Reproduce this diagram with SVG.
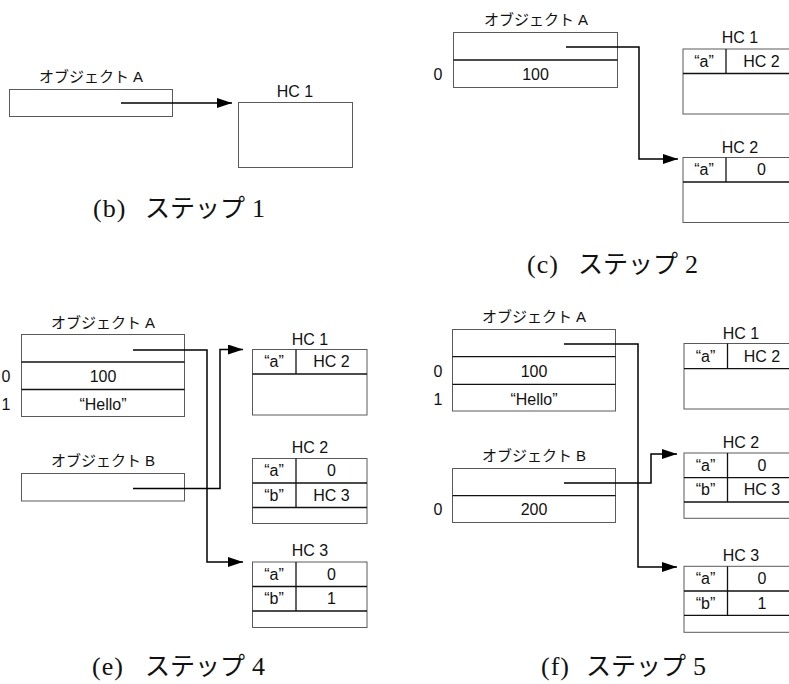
<svg xmlns="http://www.w3.org/2000/svg" width="789" height="684" viewBox="0 0 789 684">
<style>
.bg{fill:#fff}
.box{fill:#fff;stroke:#5a5a5a;stroke-width:1}
.div{stroke:#111;stroke-width:1.3;fill:none}
.lbl{font-family:"Liberation Sans","Noto Sans CJK JP",sans-serif;font-size:16px;fill:#111;text-anchor:middle}
.jl{font-size:15px}
.cap{font-family:"Liberation Serif","Noto Sans CJK JP",serif;font-size:26px;fill:#111}
.kt{font-size:25px}
.con{fill:none;stroke:#000;stroke-width:1.5}
</style>
<defs>
<marker id="ah" markerUnits="userSpaceOnUse" markerWidth="16" markerHeight="11" refX="15" refY="5" orient="auto">
<path d="M0,0 L15,5 L0,10 z" fill="#000"/>
</marker>
</defs>
<rect class="bg" x="0" y="0" width="789" height="684"/>

<!-- Panel b -->
<g id="b-objA">
<text class="lbl jl" x="91" y="82">オブジェクト A</text>
<rect class="box" x="9.5" y="89.5" width="163" height="27"/>
</g>
<g id="b-hc1">
<text class="lbl" x="295" y="97">HC 1</text>
<rect class="box" x="238.5" y="102.5" width="114" height="65"/>
</g>
<text class="cap" y="217"><tspan x="93" letter-spacing="1">(b)</tspan><tspan class="kt" x="145">ステップ</tspan><tspan x="252">1</tspan></text>

<!-- Panel c -->
<g id="c-objA">
<text class="lbl jl" x="536" y="25">オブジェクト A</text>
<rect class="box" x="453.5" y="32.5" width="164" height="55"/>
<line class="div" x1="453.5" y1="60" x2="617.5" y2="60"/>
<text class="lbl" x="438" y="79.5">0</text>
<text class="lbl" x="535.5" y="79.5">100</text>
</g>
<g id="c-hc1">
<text class="lbl" x="740" y="43">HC 1</text>
<rect class="box" x="683" y="49" width="114" height="65"/>
<line class="div" x1="683" y1="73.5" x2="797" y2="73.5"/>
<line class="div" x1="726" y1="49" x2="726" y2="73.5"/>
<text class="lbl" x="704" y="66.5">“a”</text>
<text class="lbl" x="761.5" y="66.5">HC 2</text>
</g>
<g id="c-hc2">
<text class="lbl" x="740" y="153">HC 2</text>
<rect class="box" x="683" y="157.5" width="114" height="65"/>
<line class="div" x1="683" y1="182" x2="797" y2="182"/>
<line class="div" x1="726" y1="157.5" x2="726" y2="182"/>
<text class="lbl" x="704" y="175">“a”</text>
<text class="lbl" x="761.5" y="175">0</text>
</g>
<text class="cap" y="273"><tspan x="527" letter-spacing="1">(c)</tspan><tspan class="kt" x="578">ステップ</tspan><tspan x="685">2</tspan></text>

<!-- Panel e -->
<g id="e-objA">
<text class="lbl jl" x="103" y="327.5">オブジェクト A</text>
<rect class="box" x="21.5" y="334.5" width="163" height="82"/>
<line class="div" x1="21.5" y1="362" x2="184.5" y2="362"/>
<line class="div" x1="21.5" y1="389.5" x2="184.5" y2="389.5"/>
<text class="lbl" x="6" y="382">0</text>
<text class="lbl" x="6" y="409.5">1</text>
<text class="lbl" x="103" y="382">100</text>
<text class="lbl" x="103" y="409.5">“Hello”</text>
</g>
<g id="e-objB">
<text class="lbl jl" x="103" y="466">オブジェクト B</text>
<rect class="box" x="21.5" y="473.5" width="163" height="27.5"/>
</g>
<g id="e-hc1">
<text class="lbl" x="310" y="344.5">HC 1</text>
<rect class="box" x="252.5" y="349.5" width="114.5" height="65.5"/>
<line class="div" x1="252.5" y1="374" x2="367" y2="374"/>
<line class="div" x1="296" y1="349.5" x2="296" y2="374"/>
<text class="lbl" x="274" y="367">“a”</text>
<text class="lbl" x="331.5" y="367">HC 2</text>
</g>
<g id="e-hc2">
<text class="lbl" x="310" y="452.5">HC 2</text>
<rect class="box" x="252.5" y="458.5" width="114.5" height="65"/>
<line class="div" x1="252.5" y1="483" x2="367" y2="483"/>
<line class="div" x1="252.5" y1="507.5" x2="367" y2="507.5"/>
<line class="div" x1="296" y1="458.5" x2="296" y2="507.5"/>
<text class="lbl" x="274" y="476">“a”</text>
<text class="lbl" x="331.5" y="476">0</text>
<text class="lbl" x="274" y="500.5">“b”</text>
<text class="lbl" x="331.5" y="500.5">HC 3</text>
</g>
<g id="e-hc3">
<text class="lbl" x="310" y="556">HC 3</text>
<rect class="box" x="252.5" y="562" width="114.5" height="65.5"/>
<line class="div" x1="252.5" y1="586.5" x2="367" y2="586.5"/>
<line class="div" x1="252.5" y1="611" x2="367" y2="611"/>
<line class="div" x1="296" y1="562" x2="296" y2="611"/>
<text class="lbl" x="274" y="579.5">“a”</text>
<text class="lbl" x="331.5" y="579.5">0</text>
<text class="lbl" x="274" y="604">“b”</text>
<text class="lbl" x="331.5" y="604">1</text>
</g>
<text class="cap" y="675"><tspan x="92" letter-spacing="1">(e)</tspan><tspan class="kt" x="145">ステップ</tspan><tspan x="252">4</tspan></text>

<!-- Panel f -->
<g id="f-objA">
<text class="lbl jl" x="534" y="322">オブジェクト A</text>
<rect class="box" x="452.5" y="329.5" width="163" height="81.5"/>
<line class="div" x1="452.5" y1="356.7" x2="615.5" y2="356.7"/>
<line class="div" x1="452.5" y1="384.3" x2="615.5" y2="384.3"/>
<text class="lbl" x="438" y="377">0</text>
<text class="lbl" x="438" y="404.7">1</text>
<text class="lbl" x="534" y="377">100</text>
<text class="lbl" x="534" y="404.7">“Hello”</text>
</g>
<g id="f-objB">
<text class="lbl jl" x="534" y="461">オブジェクト B</text>
<rect class="box" x="452.5" y="468.5" width="163" height="54"/>
<line class="div" x1="452.5" y1="495.7" x2="615.5" y2="495.7"/>
<text class="lbl" x="438" y="514.5">0</text>
<text class="lbl" x="534" y="514.5">200</text>
</g>
<g id="f-hc1">
<text class="lbl" x="741" y="338.5">HC 1</text>
<rect class="box" x="684" y="343.5" width="114" height="65.5"/>
<line class="div" x1="684" y1="368.7" x2="798" y2="368.7"/>
<line class="div" x1="727.5" y1="343.5" x2="727.5" y2="368.7"/>
<text class="lbl" x="705.5" y="361.5">“a”</text>
<text class="lbl" x="762" y="361.5">HC 2</text>
</g>
<g id="f-hc2">
<text class="lbl" x="741" y="448">HC 2</text>
<rect class="box" x="684" y="453" width="114" height="65.3"/>
<line class="div" x1="684" y1="477.7" x2="798" y2="477.7"/>
<line class="div" x1="684" y1="502" x2="798" y2="502"/>
<line class="div" x1="727.5" y1="453" x2="727.5" y2="502"/>
<text class="lbl" x="705.5" y="470.7">“a”</text>
<text class="lbl" x="762" y="470.7">0</text>
<text class="lbl" x="705.5" y="495">“b”</text>
<text class="lbl" x="762" y="495">HC 3</text>
</g>
<g id="f-hc3">
<text class="lbl" x="741" y="561">HC 3</text>
<rect class="box" x="684" y="566.3" width="114" height="66"/>
<line class="div" x1="684" y1="591" x2="798" y2="591"/>
<line class="div" x1="684" y1="615.3" x2="798" y2="615.3"/>
<line class="div" x1="727.5" y1="566.3" x2="727.5" y2="615.3"/>
<text class="lbl" x="705.5" y="584">“a”</text>
<text class="lbl" x="762" y="584">0</text>
<text class="lbl" x="705.5" y="608.5">“b”</text>
<text class="lbl" x="762" y="608.5">1</text>
</g>
<text class="cap" y="675"><tspan x="541" letter-spacing="1">(f)</tspan><tspan class="kt" x="586">ステップ</tspan><tspan x="693">5</tspan></text>

<g id="connectors">
<path class="con" d="M121,103 H232" marker-end="url(#ah)"/>
<path class="con" d="M566,47 H639 V159 H678" marker-end="url(#ah)"/>
<path class="con" d="M133,350 H207 V562 H243" marker-end="url(#ah)"/>
<path class="con" d="M133,488.5 H220 V349.5 H243" marker-end="url(#ah)"/>
<path class="con" d="M564,344 H638 V567 H677" marker-end="url(#ah)"/>
<path class="con" d="M564,483 H651 V454 H677" marker-end="url(#ah)"/>
</g>
</svg>
